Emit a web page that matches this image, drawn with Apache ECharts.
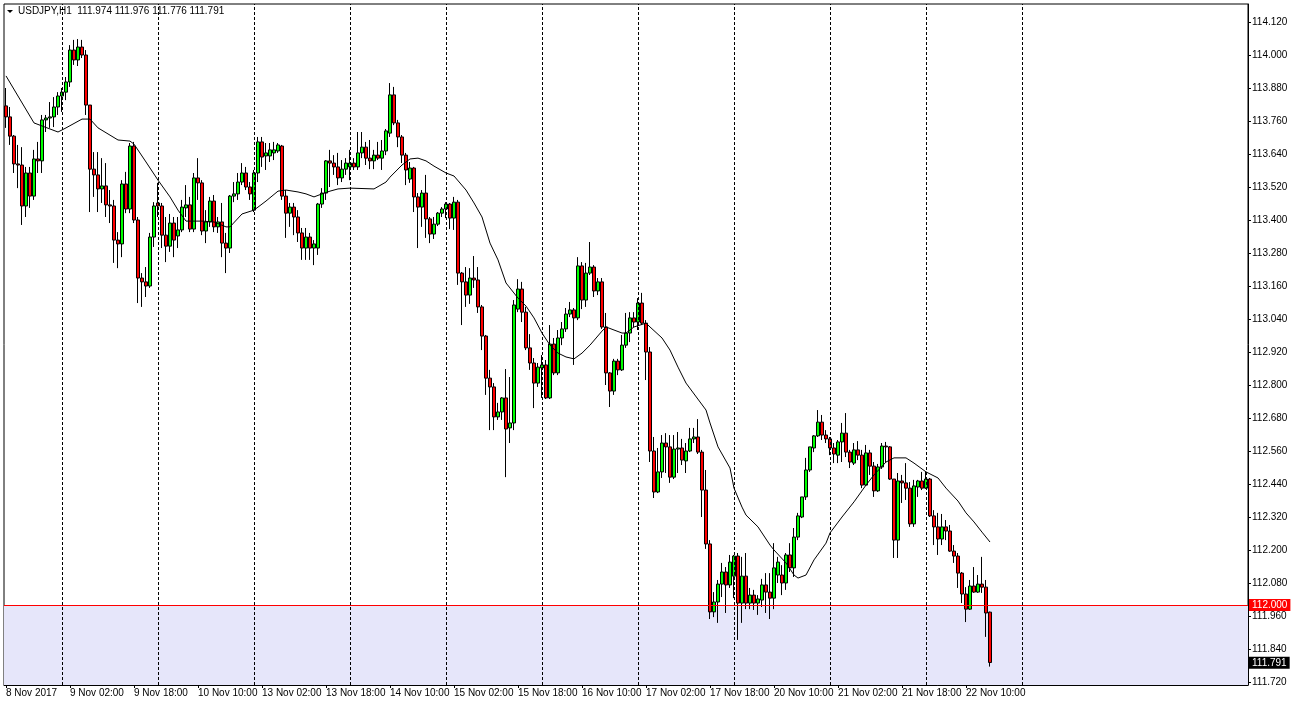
<!DOCTYPE html>
<html>
<head>
<meta charset="utf-8">
<script src="https://cdn.jsdelivr.net/npm/echarts@6/dist/echarts.min.js"></script>
<style>
html,body{margin:0;padding:0;background:#fff;}
#chart{width:1292px;height:708px;}
</style>
</head>
<body>
<div id="chart"></div>
<script>
// ---------------- DATA ----------------
const symbolName = 'USDJPY,H1';
const yearLabel = '2017';
const tradingDays = ['8 Nov','9 Nov','10 Nov','13 Nov','14 Nov','15 Nov','16 Nov','17 Nov','20 Nov','21 Nov','22 Nov','23 Nov','24 Nov','27 Nov'];
const firstHour = 10;
const totalSlots = 311; // bars + empty right shift area

const opens = [113.815,113.775,113.705,113.604,113.600,113.451,113.571,113.487,113.622,113.615,
113.764,113.771,113.775,113.811,113.851,113.865,113.902,114.018,113.982,114.029,
114.000,113.818,113.585,113.564,113.513,113.524,113.455,113.451,113.327,113.313,
113.531,113.440,113.669,113.400,113.189,113.175,113.160,113.338,113.462,113.451,
113.345,113.305,113.389,113.342,113.364,113.444,113.455,113.367,113.553,113.535,
113.360,113.393,113.469,113.375,113.393,113.316,113.298,113.487,113.495,113.538,
113.571,113.520,113.436,113.571,113.684,113.633,113.633,113.644,113.651,113.669,
113.487,113.425,113.447,113.411,113.353,113.298,113.338,113.298,113.298,113.458,
113.498,113.615,113.607,113.593,113.553,113.585,113.593,113.607,113.593,113.644,
113.665,113.625,113.615,113.636,113.625,113.651,113.716,113.855,113.753,113.702,
113.636,113.549,113.589,113.484,113.447,113.498,113.404,113.349,113.385,113.425,
113.440,113.458,113.407,113.465,113.207,113.175,113.127,113.189,113.182,113.084,
112.978,112.825,112.793,112.684,112.702,112.753,112.644,112.662,113.076,113.149,
113.065,112.935,112.880,112.807,112.862,112.873,112.753,112.949,112.844,112.971,
113.004,113.058,113.073,113.044,113.233,113.109,113.207,113.229,113.142,113.175,
113.011,112.844,112.778,112.887,112.855,112.945,112.989,113.044,113.029,113.098,
113.025,112.920,112.560,112.411,112.484,112.589,112.575,112.465,112.567,112.571,
112.524,112.560,112.604,112.611,112.556,112.418,112.222,111.975,112.011,112.076,
112.120,112.073,112.105,112.178,112.007,112.105,112.007,112.036,112.007,112.018,
112.073,112.047,112.025,112.109,112.109,112.080,112.182,112.135,112.247,112.320,
112.393,112.491,112.571,112.615,112.665,112.618,112.604,112.571,112.545,112.593,
112.625,112.556,112.516,112.564,112.545,112.436,112.553,112.505,112.415,112.502,
112.578,112.575,112.458,112.236,112.451,112.444,112.425,112.295,112.429,112.451,
112.425,112.458,112.324,112.284,112.240,112.284,112.269,112.196,112.178,112.116,
112.040,111.985,112.069,112.047,112.076,112.065,111.974];

const highs = [113.880,113.811,113.709,113.673,113.665,113.593,113.593,113.655,113.684,113.782,
113.782,113.829,113.847,113.865,113.880,113.920,114.036,114.055,114.058,114.055,
114.018,113.818,113.647,113.647,113.625,113.607,113.509,113.473,113.356,113.545,
113.575,113.680,113.684,113.411,113.207,113.229,113.353,113.465,113.535,113.462,
113.411,113.422,113.411,113.411,113.473,113.527,113.484,113.571,113.625,113.545,
113.436,113.484,113.491,113.411,113.462,113.353,113.491,113.538,113.571,113.607,
113.593,113.538,113.582,113.702,113.702,113.680,113.680,113.684,113.680,113.673,
113.509,113.462,113.462,113.436,113.371,113.371,113.353,113.327,113.462,113.516,
113.618,113.655,113.636,113.644,113.618,113.625,113.655,113.625,113.720,113.720,
113.684,113.691,113.655,113.684,113.691,113.731,113.898,113.884,113.764,113.709,
113.644,113.611,113.593,113.498,113.509,113.564,113.411,113.411,113.429,113.447,
113.465,113.462,113.484,113.473,113.211,113.229,113.225,113.269,113.229,113.091,
112.982,112.855,112.807,112.735,112.756,112.858,112.829,113.109,113.185,113.175,
113.084,112.985,112.898,112.880,112.909,112.891,113.018,112.971,113.000,113.029,
113.080,113.102,113.080,113.265,113.247,113.244,113.320,113.236,113.189,113.189,
113.062,112.847,112.895,112.895,112.982,113.062,113.065,113.065,113.116,113.135,
113.036,112.938,112.611,112.571,112.618,112.625,112.618,112.618,112.629,112.604,
112.589,112.644,112.644,112.676,112.564,112.491,112.236,112.047,112.091,112.153,
112.138,112.182,112.182,112.189,112.175,112.189,112.062,112.055,112.036,112.095,
112.116,112.116,112.225,112.175,112.145,112.189,112.225,112.280,112.335,112.393,
112.535,112.575,112.618,112.709,112.691,112.636,112.611,112.589,112.600,112.662,
112.698,112.564,112.589,112.596,112.564,112.582,112.564,112.520,112.513,112.589,
112.593,112.578,112.458,112.480,112.473,112.516,112.447,112.455,112.455,112.484,
112.484,112.462,112.345,112.335,112.331,112.309,112.291,112.218,112.189,112.120,
112.065,112.091,112.138,112.109,112.175,112.091,111.976];

const lows = [113.735,113.673,113.571,113.516,113.382,113.411,113.444,113.473,113.571,113.571,
113.720,113.735,113.738,113.782,113.793,113.836,113.884,113.964,113.960,113.989,
113.782,113.429,113.484,113.429,113.462,113.411,113.389,113.244,113.225,113.265,
113.425,113.425,113.389,113.098,113.084,113.120,113.153,113.302,113.411,113.298,
113.247,113.284,113.265,113.298,113.356,113.411,113.356,113.356,113.473,113.345,
113.316,113.375,113.356,113.353,113.265,113.207,113.280,113.465,113.473,113.527,
113.509,113.473,113.429,113.538,113.593,113.582,113.611,113.618,113.644,113.473,
113.335,113.375,113.345,113.320,113.255,113.255,113.255,113.236,113.273,113.444,
113.473,113.520,113.564,113.527,113.538,113.564,113.545,113.582,113.582,113.625,
113.600,113.585,113.585,113.618,113.582,113.636,113.702,113.745,113.665,113.607,
113.527,113.535,113.429,113.298,113.375,113.335,113.316,113.331,113.378,113.411,
113.407,113.367,113.364,113.164,113.018,113.084,113.095,113.153,113.062,112.927,
112.764,112.636,112.636,112.673,112.673,112.465,112.589,112.636,113.065,113.029,
112.927,112.855,112.716,112.793,112.753,112.749,112.749,112.836,112.836,112.945,
112.993,113.047,112.873,113.036,113.076,113.084,113.200,113.120,113.127,113.004,
112.800,112.720,112.764,112.836,112.851,112.935,112.956,113.011,113.000,113.018,
112.818,112.520,112.389,112.407,112.462,112.480,112.444,112.458,112.480,112.509,
112.480,112.556,112.589,112.549,112.320,112.204,111.949,111.956,111.935,112.029,
111.971,112.062,112.025,111.873,111.935,111.985,111.985,111.982,111.964,111.993,
111.971,111.949,111.985,112.080,112.036,112.055,112.120,112.102,112.236,112.316,
112.382,112.484,112.556,112.611,112.600,112.589,112.545,112.516,112.516,112.520,
112.538,112.498,112.509,112.527,112.425,112.433,112.473,112.393,112.411,112.495,
112.520,112.455,112.171,112.171,112.371,112.382,112.284,112.284,112.393,112.418,
112.422,112.320,112.218,112.182,112.218,112.236,112.193,112.153,112.062,112.007,
111.938,111.982,112.044,112.044,112.044,111.884,111.776];

const closes = [113.775,113.705,113.604,113.600,113.451,113.571,113.487,113.622,113.615,113.764,
113.771,113.775,113.811,113.851,113.865,113.902,114.018,113.982,114.029,114.000,
113.818,113.585,113.564,113.513,113.524,113.455,113.451,113.327,113.313,113.531,
113.440,113.669,113.400,113.189,113.175,113.160,113.338,113.451,113.451,113.345,
113.305,113.389,113.327,113.364,113.447,113.455,113.367,113.553,113.535,113.360,
113.393,113.469,113.375,113.393,113.316,113.298,113.487,113.495,113.538,113.571,
113.520,113.495,113.571,113.684,113.629,113.644,113.655,113.655,113.673,113.487,
113.425,113.447,113.411,113.353,113.298,113.338,113.298,113.313,113.458,113.498,
113.615,113.607,113.593,113.553,113.585,113.607,113.607,113.593,113.644,113.665,
113.625,113.615,113.636,113.625,113.651,113.724,113.855,113.753,113.702,113.636,
113.582,113.589,113.484,113.447,113.498,113.404,113.349,113.385,113.425,113.440,
113.458,113.407,113.465,113.207,113.175,113.127,113.189,113.182,113.084,112.978,
112.825,112.793,112.684,112.702,112.753,112.640,112.662,113.091,113.149,113.065,
112.935,112.880,112.807,112.865,112.873,112.753,112.949,112.844,112.971,113.004,
113.058,113.073,113.044,113.233,113.109,113.207,113.229,113.142,113.175,113.011,
112.844,112.778,112.887,112.855,112.945,112.989,113.044,113.029,113.098,113.025,
112.920,112.560,112.411,112.484,112.589,112.575,112.465,112.567,112.571,112.527,
112.560,112.604,112.611,112.556,112.418,112.222,111.975,112.011,112.076,112.120,
112.073,112.156,112.178,112.007,112.105,112.007,112.036,112.007,112.022,112.073,
112.047,112.025,112.135,112.156,112.080,112.182,112.135,112.247,112.324,112.393,
112.491,112.575,112.615,112.665,112.618,112.604,112.571,112.549,112.593,112.625,
112.556,112.520,112.564,112.545,112.436,112.553,112.505,112.415,112.502,112.578,
112.575,112.458,112.236,112.451,112.444,112.425,112.295,112.433,112.451,112.425,
112.458,112.324,112.284,112.240,112.284,112.269,112.196,112.178,112.116,112.040,
111.985,112.069,112.047,112.076,112.065,111.971,111.791];

// moving average line, read at bar indices [barIndex, value]
const maPoints = [[0,113.924],[7,113.753],[9,113.742],[13,113.720],[15,113.735],[19,113.767],[21,113.767],
[23,113.735],[28,113.691],[31,113.687],[32,113.676],[35,113.611],[38,113.545],[41,113.484],[43,113.436],
[45,113.396],[49,113.396],[52,113.393],[55,113.375],[56,113.375],[59,113.422],[62,113.436],[65,113.469],
[68,113.505],[70,113.509],[73,113.502],[75,113.495],[77,113.484],[79,113.495],[81,113.505],[83,113.513],
[86,113.516],[92,113.513],[95,113.538],[96,113.556],[99,113.600],[101,113.622],[103,113.625],[105,113.615],
[107,113.596],[110,113.571],[112,113.560],[115,113.509],[117,113.462],[119,113.411],[121,113.316],
[123,113.255],[125,113.171],[128,113.116],[130,113.087],[132,113.044],[134,112.989],[136,112.945],
[138,112.916],[140,112.902],[142,112.895],[144,112.916],[146,112.945],[149,112.996],[150,113.011],
[152,113.000],[154,112.989],[155,112.989],[157,113.011],[160,113.025],[161,113.011],[164,112.971],
[166,112.927],[168,112.865],[170,112.807],[175,112.709],[176,112.662],[178,112.575],[181,112.498],
[182,112.425],[184,112.356],[185,112.327],[188,112.284],[191,112.218],[192,112.200],[195,112.153],
[197,112.109],[198,112.098],[200,112.109],[202,112.164],[205,112.225],[206,112.262],[209,112.320],
[212,112.375],[215,112.436],[217,112.473],[220,112.520],[222,112.535],[225,112.535],[227,112.516],
[230,112.484],[233,112.462],[235,112.425],[238,112.378],[240,112.335],[242,112.302],[244,112.265],[246,112.229]];

const levelLine = 112.000;
const yTicks = [111.720,111.840,111.960,112.080,112.200,112.320,112.440,112.560,112.680,112.800,112.920,
113.040,113.160,113.280,113.400,113.520,113.640,113.760,113.880,114.000,114.120];
const yMin = 111.7091, yMax = 114.1855;
const labelEvery = 16;

// ---------------- BUILD ----------------
const categories = [];
const hourOf = [];
for (let d = 0; d < tradingDays.length && categories.length < totalSlots; d++) {
  for (let h = (d === 0 ? firstHour : 0); h < 24 && categories.length < totalSlots; h++) {
    categories.push(tradingDays[d] + ' ' + String(h).padStart(2, '0') + ':00');
    hourOf.push(h);
  }
}
const nBars = opens.length;
const ohlc = opens.map((o, i) => [o, closes[i], lows[i], highs[i]]);
// day separators: all day starts among the bars, plus the first one after the last bar
const separators = [];
let extraAdded = false;
hourOf.forEach((h, i) => {
  if (h === 0 && i > 0) {
    if (i < nBars) separators.push({ xAxis: i });
    else if (!extraAdded) { separators.push({ xAxis: i }); extraAdded = true; }
  }
});
const showLabel = (i) => i === 0 || (i % labelEvery === 0 && i < nBars);

const FONT = 'Liberation Sans, Arial, sans-serif';
const last = nBars - 1;
const fmt = v => v.toFixed(3);

const chart = echarts.init(document.getElementById('chart'), null, { renderer: 'canvas' });
chart.setOption({
  animation: false,
  backgroundColor: '#ffffff',
  title: {
    text: symbolName + '  ' + [opens[last], highs[last], lows[last], closes[last]].map(fmt).join(' '),
    left: 18, top: 6, padding: 0,
    textStyle: { fontSize: 10, fontWeight: 'normal', fontFamily: FONT, color: '#000' }
  },
  graphic: [{
    type: 'polygon', shape: { points: [[7, 10], [13, 10], [10, 13]] },
    style: { fill: '#000' }, silent: true
  }],
  grid: { left: 4, top: 4, width: 1244, height: 681, show: true, borderColor: '#000', borderWidth: 1, backgroundColor: '#fff' },
  xAxis: {
    type: 'category', data: categories, boundaryGap: true,
    axisLine: { show: true, lineStyle: { color: '#000', width: 1 } },
    axisTick: { show: true, alignWithLabel: true, interval: (i) => showLabel(i), length: 3, lineStyle: { color: '#000' } },
    axisLabel: {
      interval: (i) => showLabel(i),
      formatter: (v, i) => i === 0 ? tradingDays[0] + ' ' + yearLabel : v,
      align: 'left', margin: 3, fontSize: 10, fontFamily: FONT, color: '#000'
    },
    splitLine: { show: false }
  },
  yAxis: {
    type: 'value', position: 'right', min: yMin, max: yMax, scale: true,
    axisLine: { show: true, lineStyle: { color: '#000', width: 1 } },
    axisTick: { show: true, customValues: yTicks, length: 3, lineStyle: { color: '#000' } },
    axisLabel: { customValues: yTicks, formatter: fmt, margin: 4, fontSize: 10, fontFamily: FONT, color: '#000' },
    splitLine: { show: false }
  },
  series: [
    {
      name: 'bg', type: 'line', data: closes, z: 1, silent: true,
      showSymbol: false, lineStyle: { opacity: 0 },
      markArea: {
        silent: true,
        itemStyle: { color: '#E6E6FA' },
        data: [[{ yAxis: levelLine }, { yAxis: yMin }]]
      },
      markLine: {
        silent: true, symbol: ['none', 'none'],
        lineStyle: { color: '#000', type: [3, 2], width: 1 },
        label: { show: false },
        data: separators
      }
    },
    {
      name: symbolName, type: 'candlestick', data: ohlc, z: 2, barWidth: 3, silent: true,
      itemStyle: {
        color: '#00FF00', color0: '#FF0000',
        borderColor: '#000', borderColor0: '#000', borderColorDoji: '#000', borderWidth: 1
      }
    },
    {
      name: 'MA', type: 'line', data: maPoints, z: 3, silent: true,
      showSymbol: false, symbol: 'none', connectNulls: true,
      lineStyle: { color: '#000', width: 1 }
    },
    {
      name: 'levels', type: 'line', data: closes, z: 4, silent: true,
      showSymbol: false, lineStyle: { color: 'rgba(0,0,0,0)', width: 0 },
      markLine: {
        silent: true, symbol: ['none', 'none'],
        data: [
          {
            yAxis: levelLine,
            lineStyle: { color: '#FF0000', type: 'solid', width: 1 },
            label: { show: true, position: 'end', distance: 1, formatter: fmt(levelLine),
              backgroundColor: '#FF0000', color: '#fff', padding: [1, 3, 1, 3], fontSize: 10, fontFamily: FONT }
          },
          {
            yAxis: closes[last],
            lineStyle: { color: 'rgba(0,0,0,0)', type: 'solid', width: 1 },
            label: { show: true, position: 'end', distance: 1, formatter: fmt(closes[last]),
              backgroundColor: '#000', color: '#fff', padding: [1, 3, 1, 3], fontSize: 10, fontFamily: FONT }
          }
        ]
      }
    }
  ]
});
</script>
</body>
</html>
